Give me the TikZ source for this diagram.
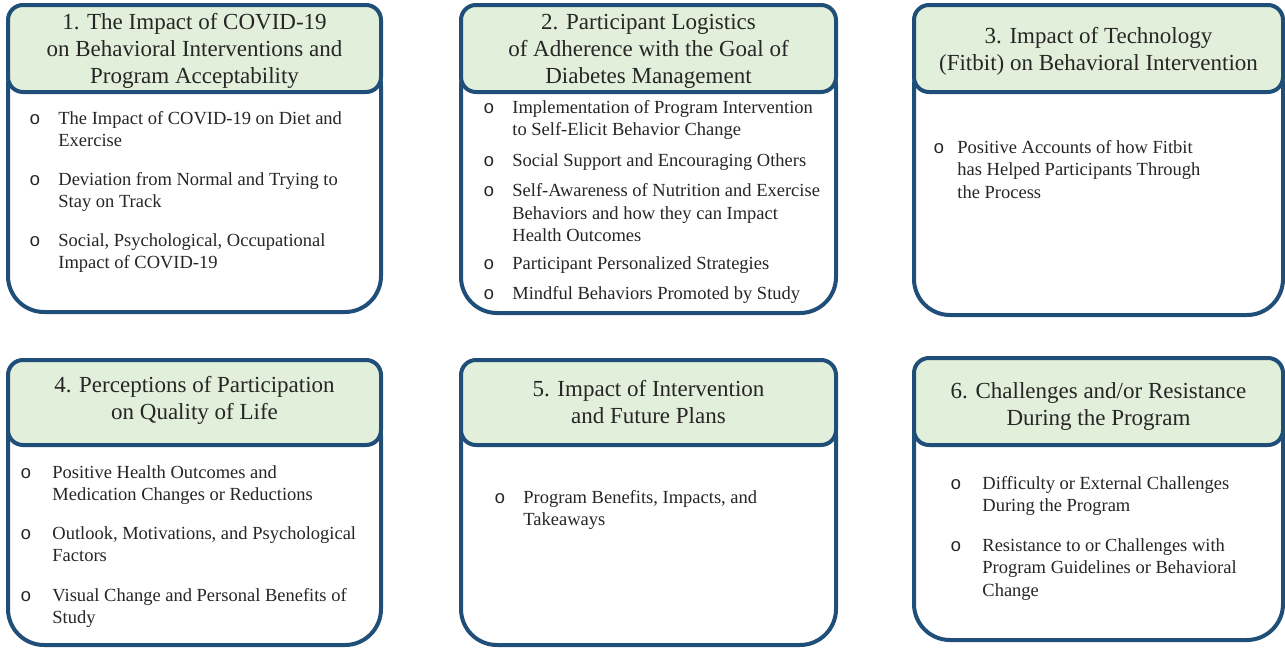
\documentclass[tikz,border=0pt]{standalone}
\usepackage{fontspec}
\setmainfont{Liberation Serif}
\newfontfamily\bulletfont{Liberation Mono}
\usepackage{array}
\definecolor{panelblue}{RGB}{31,78,121}
\definecolor{headgreen}{RGB}{226,239,218}
\newcommand{\bul}{{\bulletfont o}}
\newcommand{\headfont}{\fontsize{11.5}{13.5}\selectfont}
\newcommand{\itemfont}{\fontsize{9.25}{11.25}\selectfont}

\begin{document}
\begin{tikzpicture}[x=0.5pt,y=-0.5pt,
  panel/.style={draw=panelblue,line width=2pt,fill=white,rounded corners=18pt},
  headbox/.style={draw=panelblue,line width=2pt,fill=headgreen,rounded corners=7.5pt},
  head/.style={inner sep=0pt,align=center,text=black!85,font=\headfont},
  items/.style={anchor=base west,inner sep=0pt,text=black!85,font=\itemfont}]
\useasboundingbox (0,0) rectangle (1285,648);

% top row
\draw[panel] (8,50) rectangle (381,312);
\draw[headbox] (8,5) rectangle (381,92);
\node[head] (h1) at (194.5,51) {1. The Impact of COVID-19\\on Behavioral Interventions and\\Program Acceptability};
\node[items] (l1) at (29,124) {\begin{tabular}[t]{@{}p{14.5pt}@{}l@{}}
\bul & The Impact of COVID-19 on Diet and\\
 & Exercise\\[8pt]
\bul & Deviation from Normal and Trying to\\
 & Stay on Track\\[8pt]
\bul & Social, Psychological, Occupational\\
 & Impact of COVID-19
\end{tabular}};

\draw[panel] (461,50) rectangle (836,313);
\draw[headbox] (461,5) rectangle (836,92);
\node[head] (h2) at (648.5,51.5) {2. Participant Logistics\\of Adherence with the Goal of\\Diabetes Management};
\node[items] (l2) at (483,113) {\begin{tabular}[t]{@{}p{14.5pt}@{}l@{}}
\bul & Implementation of Program Intervention\\
 & to Self-Elicit Behavior Change\\[4pt]
\bul & Social Support and Encouraging Others\\[4pt]
\bul & Self-Awareness of Nutrition and Exercise\\
 & Behaviors and how they can Impact\\
 & Health Outcomes\\[2.5pt]
\bul & Participant Personalized Strategies\\[4pt]
\bul & Mindful Behaviors Promoted by Study
\end{tabular}};

\draw[panel] (914,50) rectangle (1283,315);
\draw[headbox] (914,5) rectangle (1283,92);
\node[head] (h3) at (1098.5,51.5) {3. Impact of Technology\\(Fitbit) on Behavioral Intervention};
\node[items] (l3) at (933,153) {\begin{tabular}[t]{@{}p{12pt}@{}l@{}}
\bul & Positive Accounts of how Fitbit\\
 & has Helped Participants Through\\
 & the Process
\end{tabular}};

% bottom row
\draw[panel] (8,400) rectangle (381,645);
\draw[headbox] (8,360) rectangle (381,445);
\node[head] (h4) at (194.5,400.5) {4. Perceptions of Participation\\on Quality of Life};
\node[items] (l4) at (20,478) {\begin{tabular}[t]{@{}p{16pt}@{}l@{}}
\bul & Positive Health Outcomes and\\
 & Medication Changes or Reductions\\[8pt]
\bul & Outlook, Motivations, and Psychological\\
 & Factors\\[8.5pt]
\bul & Visual Change and Personal Benefits of\\
 & Study
\end{tabular}};

\draw[panel] (461,400) rectangle (836,645);
\draw[headbox] (461,360) rectangle (836,445);
\node[head] (h5) at (648.5,402) {5. Impact of Intervention\\and Future Plans};
\node[items] (l5) at (494,503) {\begin{tabular}[t]{@{}p{14.5pt}@{}l@{}}
\bul & Program Benefits, Impacts, and\\
 & Takeaways
\end{tabular}};

\draw[panel] (914,400) rectangle (1283,640);
\draw[headbox] (914,358) rectangle (1283,445);
\node[head] (h6) at (1098.5,406) {6. Challenges and/or Resistance\\During the Program};
\node[items] (l6) at (950,489) {\begin{tabular}[t]{@{}p{16pt}@{}l@{}}
\bul & Difficulty or External Challenges\\
 & During the Program\\[8.5pt]
\bul & Resistance to or Challenges with\\
 & Program Guidelines or Behavioral\\
 & Change
\end{tabular}};
\end{tikzpicture}
\end{document}
